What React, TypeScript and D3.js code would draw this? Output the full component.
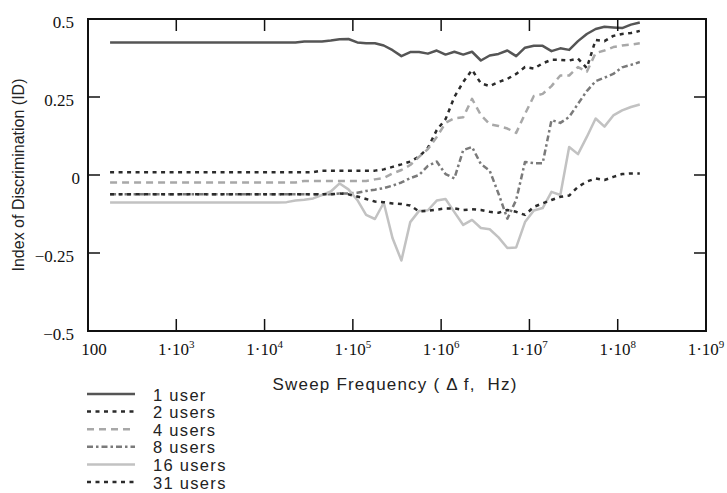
import { useEffect, useRef } from "react";
import * as d3 from "d3";

// sweep frequency, as log10(Hz)
const freqExponents = [
  2.25, 2.35, 2.45, 2.55, 2.65, 2.75, 2.85, 2.95, 3.05, 3.15, 3.25, 3.35, 3.45, 3.55, 3.65, 3.75,
  3.85, 3.95, 4.05, 4.15, 4.25, 4.35, 4.45, 4.55, 4.65, 4.75, 4.85, 4.95, 5.05, 5.15, 5.25, 5.35,
  5.45, 5.55, 5.65, 5.75, 5.85, 5.95, 6.05, 6.15, 6.25, 6.35, 6.45, 6.55, 6.65, 6.75, 6.85, 6.95,
  7.05, 7.15, 7.25, 7.35, 7.45, 7.55, 7.65, 7.75, 7.85, 7.95, 8.05, 8.15, 8.25,
];

const user1 = [
  0.425, 0.425, 0.425, 0.425, 0.425, 0.425, 0.425, 0.425, 0.425, 0.425, 0.425, 0.425, 0.425, 0.425, 0.425, 0.425,
  0.425, 0.425, 0.425, 0.425, 0.425, 0.425, 0.428, 0.428, 0.428, 0.431, 0.435, 0.436, 0.425, 0.422, 0.422, 0.415,
  0.4, 0.381, 0.394, 0.394, 0.389, 0.399, 0.386, 0.395, 0.386, 0.395, 0.367, 0.383, 0.388, 0.399, 0.381, 0.408,
  0.414, 0.414, 0.397, 0.406, 0.401, 0.429, 0.452, 0.468, 0.475, 0.473, 0.471, 0.482, 0.489,
];

const users2 = [
  0.009, 0.009, 0.009, 0.009, 0.009, 0.009, 0.009, 0.009, 0.009, 0.009, 0.009, 0.009, 0.009, 0.009, 0.009, 0.009,
  0.009, 0.009, 0.009, 0.009, 0.009, 0.009, 0.009, 0.009, 0.014, 0.014, 0.014, 0.014, 0.014, 0.014, 0.014, 0.018,
  0.026, 0.034, 0.043, 0.059, 0.087, 0.144, 0.179, 0.25, 0.298, 0.337, 0.294, 0.285, 0.298, 0.308, 0.324, 0.346,
  0.341, 0.358, 0.369, 0.369, 0.367, 0.373, 0.343, 0.433, 0.429, 0.446, 0.452, 0.455, 0.462,
];

const users4 = [
  -0.024, -0.024, -0.024, -0.024, -0.024, -0.024, -0.024, -0.024, -0.024, -0.024, -0.024, -0.024, -0.024, -0.024, -0.024, -0.024,
  -0.024, -0.024, -0.024, -0.024, -0.024, -0.024, -0.019, -0.019, -0.019, -0.019, -0.019, -0.019, -0.019, -0.019, -0.014, -0.01,
  0.005, 0.016, 0.032, 0.058, 0.083, 0.122, 0.167, 0.182, 0.185, 0.244, 0.192, 0.163, 0.157, 0.149, 0.135, 0.196,
  0.253, 0.26, 0.285, 0.319, 0.319, 0.346, 0.331, 0.391, 0.399, 0.41, 0.415, 0.418, 0.422,
];

const users8 = [
  -0.062, -0.062, -0.062, -0.062, -0.062, -0.062, -0.062, -0.062, -0.062, -0.062, -0.062, -0.062, -0.062, -0.062, -0.062, -0.062,
  -0.062, -0.062, -0.062, -0.062, -0.062, -0.062, -0.062, -0.062, -0.062, -0.062, -0.059, -0.059, -0.057, -0.051, -0.047, -0.042,
  -0.034, -0.024, -0.01, 0.0, 0.029, 0.043, 0.003, -0.011, 0.08, 0.09, 0.035, 0.014, -0.06, -0.14, -0.08, 0.042,
  0.038, 0.038, 0.176, 0.167, 0.186, 0.228, 0.269, 0.301, 0.312, 0.324, 0.345, 0.353, 0.362,
];

const users16 = [
  -0.088, -0.088, -0.088, -0.088, -0.088, -0.088, -0.088, -0.088, -0.088, -0.088, -0.088, -0.088, -0.088, -0.088, -0.088, -0.088,
  -0.088, -0.088, -0.088, -0.088, -0.087, -0.082, -0.079, -0.075, -0.064, -0.053, -0.027, -0.046, -0.08, -0.128, -0.141, -0.089,
  -0.203, -0.274, -0.151, -0.115, -0.113, -0.082, -0.077, -0.119, -0.16, -0.144, -0.17, -0.174, -0.2, -0.234, -0.232, -0.151,
  -0.114, -0.106, -0.054, -0.064, 0.09, 0.067, 0.122, 0.181, 0.155, 0.191, 0.207, 0.218, 0.226,
];

const users31 = [
  -0.062, -0.062, -0.062, -0.062, -0.062, -0.062, -0.062, -0.062, -0.062, -0.062, -0.062, -0.062, -0.062, -0.062, -0.062, -0.062,
  -0.062, -0.062, -0.062, -0.062, -0.062, -0.062, -0.062, -0.062, -0.062, -0.062, -0.059, -0.062, -0.069, -0.077, -0.085, -0.087,
  -0.091, -0.093, -0.098, -0.117, -0.115, -0.111, -0.107, -0.107, -0.112, -0.11, -0.112, -0.118, -0.121, -0.112, -0.118, -0.128,
  -0.102, -0.091, -0.08, -0.07, -0.066, -0.038, -0.021, -0.011, -0.016, -0.006, 0.003, 0.005, 0.005,
];

const seriesNames = ["1 user", "2 users", "4 users", "8 users", "16 users", "31 users"];
const seriesValues = [user1, users2, users4, users8, users16, users31];

const xTickExponents = [2, 3, 4, 5, 6, 7, 8, 9];
const yTicks = [-0.5, -0.25, 0, 0.25, 0.5];
const yTickLabels = ["\u22120.5", "\u22120.25", "0", "0.25", "0.5"];

const lineStyles = [
  { color: "#555555", dash: "", width: 2.5 },
  { color: "#2b2b2b", dash: "4,4.5", width: 2.5 },
  { color: "#a8a8a8", dash: "7,5", width: 2.5 },
  { color: "#7a7a7a", dash: "6,3,2.5,3", width: 2.5 },
  { color: "#c2c2c2", dash: "", width: 2.5 },
  { color: "#2b2b2b", dash: "4,4.5", width: 2.5 },
];

const W = 727;
const H = 493;
const serif = "'Liberation Serif', 'DejaVu Serif', serif";
const sans = "'Liberation Sans', Arial, sans-serif";

export default function App() {
  const svgRef = useRef<SVGSVGElement>(null);

  useEffect(() => {
    if (!svgRef.current) return;
    const svg = d3.select(svgRef.current);
    svg.selectAll("*").remove();

    const plot = { left: 88, right: 706, top: 19, bottom: 331 };

    const x = d3.scaleLog().domain([1e2, 1e9]).range([plot.left, plot.right]);
    const y = d3.scaleLinear().domain([-0.5, 0.5]).range([plot.bottom, plot.top]);

    const line = d3
      .line<number>()
      .x((_, i) => x(Math.pow(10, freqExponents[i])))
      .y((d) => y(d));

    const g = svg.append("g");

    // series
    seriesValues.forEach((vals, k) => {
      const st = lineStyles[k];
      g.append("path")
        .attr("d", line(vals))
        .attr("fill", "none")
        .attr("stroke", st.color)
        .attr("stroke-width", st.width)
        .attr("stroke-dasharray", st.dash || null)
        .attr("stroke-linejoin", "round");
    });

    // frame
    g.append("rect")
      .attr("x", plot.left)
      .attr("y", plot.top)
      .attr("width", plot.right - plot.left)
      .attr("height", plot.bottom - plot.top)
      .attr("fill", "none")
      .attr("stroke", "#111")
      .attr("stroke-width", 2);

    const tickLen = 12;

    // x ticks + labels
    xTickExponents.forEach((e, i) => {
      const px = x(Math.pow(10, e));
      g.append("line")
        .attr("x1", px).attr("x2", px)
        .attr("y1", plot.bottom).attr("y2", plot.bottom - tickLen)
        .attr("stroke", "#111").attr("stroke-width", 1.5);
      g.append("line")
        .attr("x1", px).attr("x2", px)
        .attr("y1", plot.top).attr("y2", plot.top + tickLen)
        .attr("stroke", "#111").attr("stroke-width", 1.5);

      const t = g.append("text")
        .attr("x", i === 0 ? px + 6 : px)
        .attr("y", 355)
        .attr("text-anchor", "middle")
        .attr("font-family", serif)
        .attr("font-size", 17)
        .attr("fill", "#111");
      if (e === 2) {
        t.text("100");
      } else {
        t.append("tspan").text("1\u00b710");
        t.append("tspan").attr("font-size", 11).attr("dy", -7).text(String(e));
      }
    });

    // y ticks + labels
    yTicks.forEach((v, i) => {
      const py = y(v);
      g.append("line")
        .attr("x1", plot.left).attr("x2", plot.left + tickLen)
        .attr("y1", py).attr("y2", py)
        .attr("stroke", "#111").attr("stroke-width", 1.5);
      g.append("line")
        .attr("x1", plot.right).attr("x2", plot.right - tickLen)
        .attr("y1", py).attr("y2", py)
        .attr("stroke", "#111").attr("stroke-width", 1.5);
      g.append("text")
        .attr("x", v === 0 ? 80 : 74)
        .attr("y", py + 8.5)
        .attr("text-anchor", "end")
        .attr("font-family", serif)
        .attr("font-size", 17)
        .attr("fill", "#111")
        .text(yTickLabels[i]);
    });

    // axis titles
    g.append("text")
      .attr("transform", `translate(24,${(plot.top + plot.bottom) / 2}) rotate(-90)`)
      .attr("text-anchor", "middle")
      .attr("font-family", sans)
      .attr("font-size", 16)
      .attr("fill", "#222")
      .text("Index of Discrimination (ID)");

    g.append("text")
      .attr("x", 395)
      .attr("y", 390)
      .attr("text-anchor", "middle")
      .attr("font-family", sans)
      .attr("font-size", 17)
      .attr("letter-spacing", 1.2)
      .attr("fill", "#222")
      .style("white-space", "pre")
      .text("Sweep Frequency ( \u0394 f,  Hz)");

    // legend
    seriesNames.forEach((name, k) => {
      const st = lineStyles[k];
      const ly = 394 + k * 17.6;
      g.append("line")
        .attr("x1", 87).attr("x2", 135)
        .attr("y1", ly).attr("y2", ly)
        .attr("stroke", st.color)
        .attr("stroke-width", st.width)
        .attr("stroke-dasharray", st.dash || null);
      g.append("text")
        .attr("x", 153)
        .attr("y", ly + 6.5)
        .attr("font-family", sans)
        .attr("font-size", 16.5)
        .attr("letter-spacing", 1.3)
        .attr("fill", "#222")
        .text(name);
    });
  }, []);

  return (
    <svg
      ref={svgRef}
      width={W}
      height={H}
      style={{ position: "absolute", left: 0, top: 0, background: "#fff" }}
    />
  );
}
